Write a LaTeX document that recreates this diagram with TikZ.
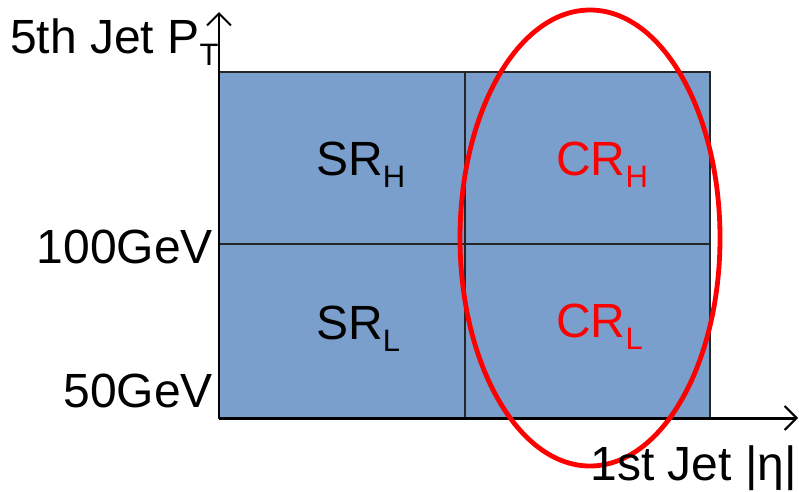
\documentclass[tikz,border=0pt]{standalone}
\usepackage{fontspec}
\setmainfont{Liberation Sans}
\usetikzlibrary{arrows.meta}
\definecolor{boxblue}{RGB}{122,159,204}
\newcommand{\lowsub}[1]{\raisebox{-12pt}{\fontsize{31}{31}\selectfont #1}}
\begin{document}
\begin{tikzpicture}[x=1pt,y=-1pt,
  cell/.style={draw=black!85, fill=boxblue, line width=1.3pt, inner sep=0pt, outer sep=0pt},
  lbl/.style={font=\fontsize{48}{48}\selectfont, inner sep=0pt},
  axis/.style={line width=2pt, -{Straight Barb[length=12pt, width=24pt, line width=2pt]}}]
\useasboundingbox (0,0) rectangle (799,491);
% cells
\node[cell, minimum width=246pt, minimum height=172pt] (srh) at (342,158) {};
\node[cell, minimum width=245pt, minimum height=172pt] (crh) at (587.5,158) {};
\node[cell, minimum width=246pt, minimum height=174pt] (srl) at (342,331) {};
\node[cell, minimum width=245pt, minimum height=174pt] (crl) at (587.5,331) {};
% axes
\coordinate (o) at (219,418);
\coordinate (ytop) at (219,12);
\coordinate (xend) at (798,418);
\draw[axis] (o) -- (ytop);
\draw[axis, line width=3pt] (o) -- (xend);
% ellipse
\draw[red, line width=4.8pt] (590,238) ellipse [x radius=130, y radius=228];
% labels
\node[lbl, anchor=base west] (srhl) at (316,175) {SR\lowsub{H}};
\node[lbl, anchor=base west, text=red] (crhl) at (556,175) {CR\lowsub{H}};
\node[lbl, anchor=base west] (srll) at (316,339) {SR\lowsub{L}};
\node[lbl, anchor=base west, text=red] (crll) at (556,337) {CR\lowsub{L}};
\node[lbl, anchor=base west] (ylab) at (10,53) {5th Jet P\lowsub{T}};
\node[lbl, anchor=base east] (l100) at (213,263) {100GeV};
\node[lbl, anchor=base east] (l50) at (213,407) {50GeV};
\node[lbl, anchor=base east] (xlab) at (797,480) {1st Jet |η|};
\end{tikzpicture}
\end{document}
